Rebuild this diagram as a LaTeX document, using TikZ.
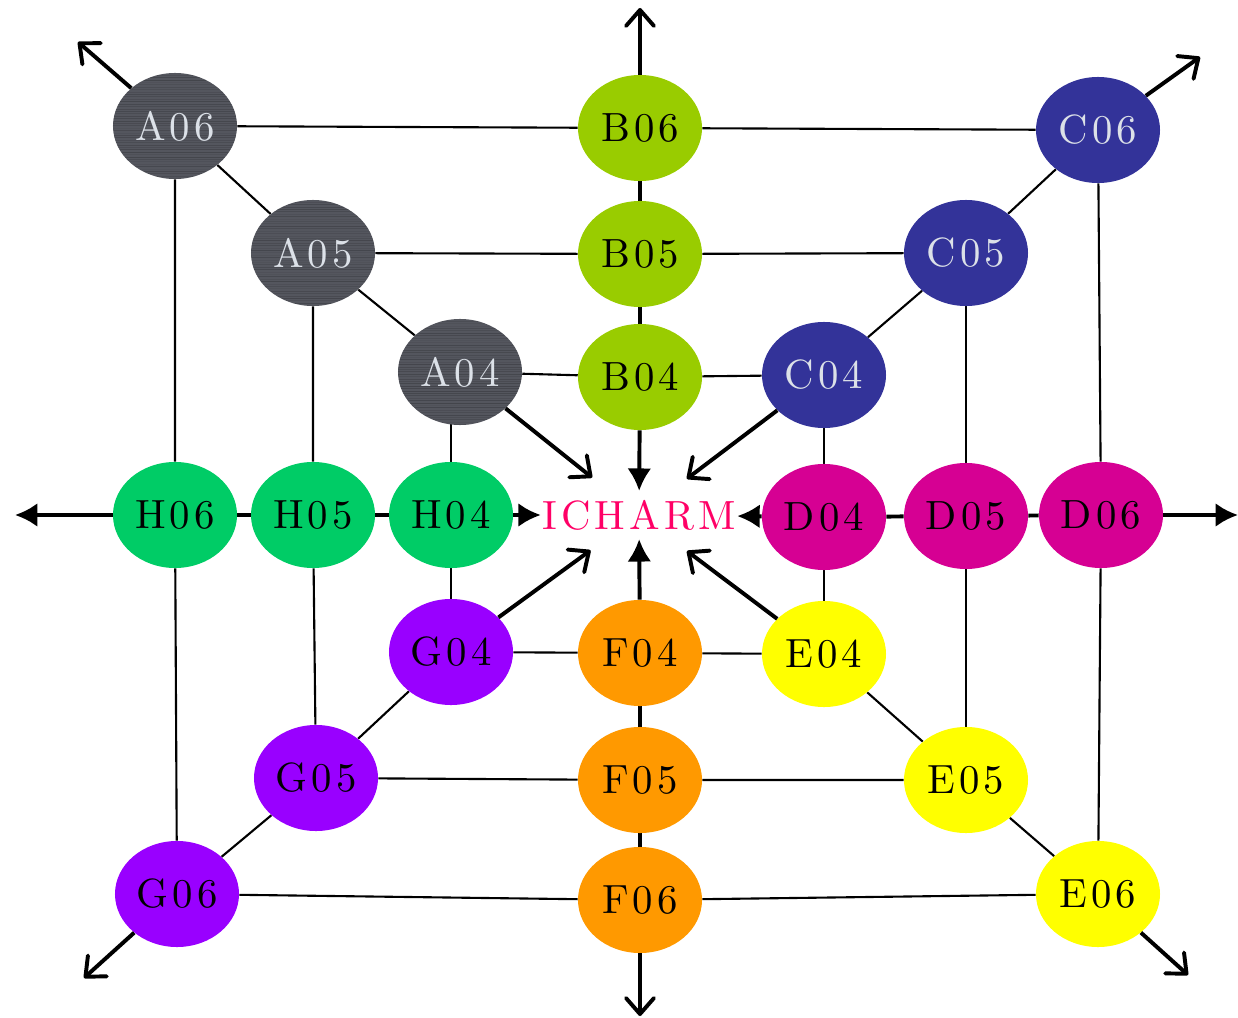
\documentclass[tikz,border=0pt]{standalone}
\usepackage{fontspec}
\usetikzlibrary{shapes.geometric,arrows.meta}
\pgfdeclarelayer{bg}
\pgfsetlayers{bg,main}
\definecolor{agray}{RGB}{84,86,94}
\definecolor{bgreen}{RGB}{153,204,0}
\definecolor{cblue}{RGB}{51,51,153}
\definecolor{dmag}{RGB}{214,0,147}
\definecolor{eyel}{RGB}{255,255,0}
\definecolor{forange}{RGB}{255,153,0}
\definecolor{gviolet}{RGB}{153,0,255}
\definecolor{hgreen}{RGB}{0,204,102}
\definecolor{icharm}{RGB}{255,0,102}
\definecolor{pale}{RGB}{220,225,232}
\newfontfamily\stnfont{lmroman10-regular.otf}[LetterSpace=10]
\newcommand{\spaced}{\stnfont\fontsize{29}{30}\selectfont}

\begin{document}
\begin{tikzpicture}[x=0.025cm,y=-0.025cm,
    stn/.style={ellipse,minimum width=3.1cm,minimum height=2.65cm,inner sep=0pt,font=\spaced},
    brushed/.style={fill=agray,text=pale,path picture={
        \foreach \k in {0,...,44} {
            \pgfmathsetmacro{\op}{0.04+0.16*rnd}
            \draw[black,opacity=\op,line width=0.7pt]
                ([yshift=-\k*0.06cm]path picture bounding box.north west) --
                ([yshift=-\k*0.06cm]path picture bounding box.north east);
        }}},
    link/.style={line width=1.5pt},
    axis/.style={line width=2.8pt},
    outarr/.style={line width=2.8pt,-{Straight Barb[length=0.4cm,width=0.7cm,round]}},
    inarr/.style={line width=2.8pt,-{Latex[length=0.56cm,width=0.6cm]}}]
    \useasboundingbox (0,0) rectangle (1238,1018);
    \node[stn,brushed] (A06) at (175,126) {A06};
    \node[stn,brushed] (A05) at (313,253) {A05};
    \node[stn,brushed] (A04) at (460,372) {A04};
    \node[stn,fill=bgreen] (B06) at (640,128) {B06};
    \node[stn,fill=bgreen] (B05) at (640,254) {B05};
    \node[stn,fill=bgreen] (B04) at (640,377) {B04};
    \node[stn,fill=cblue,text=pale] (C06) at (1098,130) {C06};
    \node[stn,fill=cblue,text=pale] (C05) at (966,253) {C05};
    \node[stn,fill=cblue,text=pale] (C04) at (824,375) {C04};
    \node[stn,fill=dmag] (D04) at (824,517) {D04};
    \node[stn,fill=dmag] (D05) at (966,516) {D05};
    \node[stn,fill=dmag] (D06) at (1101,515) {D06};
    \node[stn,fill=eyel] (E04) at (824,654) {E04};
    \node[stn,fill=eyel] (E05) at (966,780) {E05};
    \node[stn,fill=eyel] (E06) at (1098,894) {E06};
    \node[stn,fill=forange] (F04) at (640,653) {F04};
    \node[stn,fill=forange] (F05) at (640,780) {F05};
    \node[stn,fill=forange] (F06) at (640,900) {F06};
    \node[stn,fill=gviolet] (G04) at (451,652) {G04};
    \node[stn,fill=gviolet] (G05) at (316,778) {G05};
    \node[stn,fill=gviolet] (G06) at (177,894) {G06};
    \node[stn,fill=hgreen] (H04) at (451,515) {H04};
    \node[stn,fill=hgreen] (H05) at (313,515) {H05};
    \node[stn,fill=hgreen] (H06) at (175,515) {H06};
    \node[font=\spaced,text=icharm,inner xsep=1pt,inner ysep=0.22cm] (ICHARM) at (639,515) {ICHARM};
    \coordinate (oA) at (78,42);
    \coordinate (oB) at (640,8);
    \coordinate (oC) at (1200,57);
    \coordinate (oD) at (1238,515);
    \coordinate (oE) at (1188,975);
    \coordinate (oF) at (640,1016);
    \coordinate (oG) at (84,978);
    \coordinate (oH) at (15,515);
    \begin{pgfonlayer}{bg}
        \draw[link] (A06) -- (B06) -- (C06);
        \draw[link] (A05) -- (B05) -- (C05);
        \draw[link] (A04) -- (B04) -- (C04);
        \draw[link] (G04) -- (F04) -- (E04);
        \draw[link] (G05) -- (F05) -- (E05);
        \draw[link] (G06) -- (F06) -- (E06);
        \draw[link] (A06) -- (H06) -- (G06);
        \draw[link] (A05) -- (H05) -- (G05);
        \draw[link] (H04 |- A04) -- (H04) -- (G04);
        \draw[link] (C04) -- (D04) -- (E04);
        \draw[link] (C05) -- (D05) -- (E05);
        \draw[link] (C06) -- (D06) -- (E06);
        \draw[link] (A06) -- (A05) -- (A04);
        \draw[link] (C06) -- (C05) -- (C04);
        \draw[link] (E06) -- (E05) -- (E04);
        \draw[link] (G06) -- (G05) -- (G04);
        \draw[axis] (B06) -- (B05) -- (B04);
        \draw[axis] (F06) -- (F05) -- (F04);
        \draw[axis] (H06) -- (H05) -- (H04);
        \draw[axis] (D06) -- (D05) -- (D04);
    \end{pgfonlayer}
    \draw[outarr,shorten >=1.5cm] (A04) -- (ICHARM.center);
    \draw[outarr,shorten >=1.5cm] (C04) -- (ICHARM.center);
    \draw[outarr,shorten >=1.5cm] (E04) -- (ICHARM.center);
    \draw[outarr,shorten >=1.5cm] (G04) -- (ICHARM.center);
    \draw[inarr] (B04) -- (ICHARM);
    \draw[inarr] (F04) -- (ICHARM);
    \draw[inarr] (H04) -- (ICHARM);
    \draw[inarr] (D04) -- (ICHARM);
    \draw[outarr] (A06) -- (oA);
    \draw[outarr] (B06) -- (oB);
    \draw[outarr] (C06) -- (oC);
    \draw[inarr] (D06) -- (oD);
    \draw[outarr] (E06) -- (oE);
    \draw[outarr] (F06) -- (oF);
    \draw[outarr] (G06) -- (oG);
    \draw[inarr] (H06) -- (oH);
\end{tikzpicture}
\end{document}
